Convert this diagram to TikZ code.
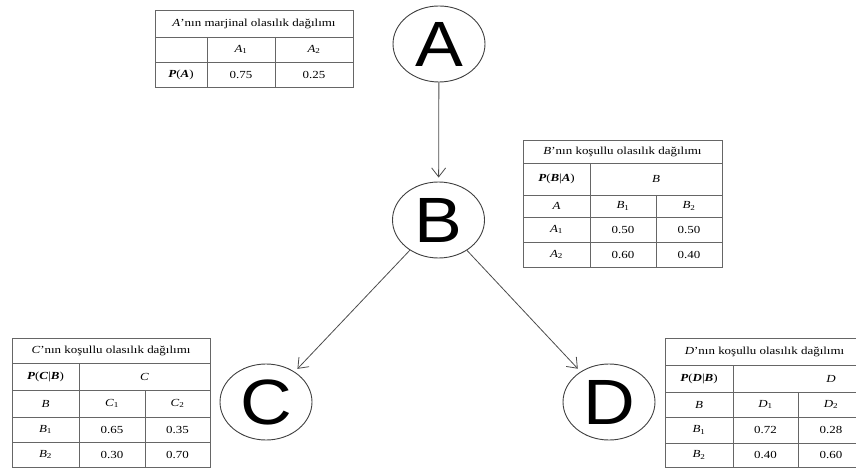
\documentclass[tikz,border=0pt]{standalone}
\usepackage{fontspec}
\usepackage{graphicx}
\setmainfont{Liberation Serif}[FakeStretch=1.2]
\newfontfamily\letterfont{Liberation Sans}[FakeStretch=1.12]
\usetikzlibrary{shapes.geometric,arrows.meta}

% italic variable with an upright subscript
\newcommand{\vsub}[2]{\textit{#1}\textsubscript{#2}}
\newcommand{\bvar}[1]{\textbf{\textit{#1}}}

\begin{document}
\begin{tikzpicture}[x=1pt,y=-1pt,
  var/.style={ellipse,draw=black!75,line width=0.9pt,minimum width=92pt,
    minimum height=76pt,inner sep=0pt,
    font=\letterfont\fontsize{64}{64}\selectfont},
  edge/.style={draw=black!70,line width=0.8pt,shorten >=4pt,
    -{Straight Barb[length=9pt,width=14pt,line width=0.8pt]}},
  grid/.style={draw=black!60,line width=0.8pt},
  cell/.style={inner sep=0pt,font=\fontsize{10.8}{12}\selectfont}]
\useasboundingbox (0,0) rectangle (856,470);
\begin{scope}
\clip (0,0) rectangle (856,470);

% ---- network nodes ----
\node[var] (A) at (439,44) {A};
\node[var] (B) at (438.5,220) {B};
\node[var] (C) at (266,402) {C};
\node[var] (D) at (609,402) {D};

\draw[edge] (A) -- (B);
\draw[edge] (B) -- (C);
\draw[edge] (B) -- (D);

% ---- marginal table of A ----
\draw[grid] (155,10) rectangle (353,87);
\draw[grid] (155,37) -- (353,37) (155,62) -- (353,62);
\draw[grid] (207,37) -- (207,87) (275,37) -- (275,87);
\node[cell] (ta0) at (254,23.5) {\textit{A}'nın marjinal olasılık dağılımı};
\node[cell] (ta1) at (241,49.5) {\vsub{A}{1}};
\node[cell] (ta2) at (314,49.5) {\vsub{A}{2}};
\node[cell] (ta3) at (181,74.5) {\bvar{P}(\bvar{A})};
\node[cell] (ta4) at (241,74.5) {0.75};
\node[cell] (ta5) at (314,74.5) {0.25};

% ---- conditional table of B ----
\draw[grid] (523,140) rectangle (722,267);
\draw[grid] (523,163) -- (722,163) (523,195) -- (722,195)
            (523,217) -- (722,217) (523,242) -- (722,242);
\draw[grid] (590,163) -- (590,267) (656,195) -- (656,267);
\node[cell] (tb0) at (622.5,151.5) {\textit{B}'nın koşullu olasılık dağılımı};
\node[cell] (tb1) at (556.5,179) {\bvar{P}(\bvar{B}|\bvar{A})};
\node[cell] (tb2) at (656,179) {\textit{B}};
\node[cell] (tb3) at (556.5,206) {\textit{A}};
\node[cell] (tb4) at (623,206) {\vsub{B}{1}};
\node[cell] (tb5) at (689,206) {\vsub{B}{2}};
\node[cell] (tb6) at (556.5,229.5) {\vsub{A}{1}};
\node[cell] (tb7) at (623,229.5) {0.50};
\node[cell] (tb8) at (689,229.5) {0.50};
\node[cell] (tb9) at (556.5,254.5) {\vsub{A}{2}};
\node[cell] (tb10) at (623,254.5) {0.60};
\node[cell] (tb11) at (689,254.5) {0.40};

% ---- conditional table of C ----
\draw[grid] (12,338) rectangle (210,467);
\draw[grid] (12,363) -- (210,363) (12,390) -- (210,390)
            (12,417) -- (210,417) (12,442) -- (210,442);
\draw[grid] (79,363) -- (79,467) (145,390) -- (145,467);
\node[cell] (tc0) at (111,350.5) {\textit{C}'nın koşullu olasılık dağılımı};
\node[cell] (tc1) at (45.5,376.5) {\bvar{P}(\bvar{C}|\bvar{B})};
\node[cell] (tc2) at (144.5,376.5) {\textit{C}};
\node[cell] (tc3) at (45.5,403.5) {\textit{B}};
\node[cell] (tc4) at (112,403.5) {\vsub{C}{1}};
\node[cell] (tc5) at (177.5,403.5) {\vsub{C}{2}};
\node[cell] (tc6) at (45.5,429.5) {\vsub{B}{1}};
\node[cell] (tc7) at (112,429.5) {0.65};
\node[cell] (tc8) at (177.5,429.5) {0.35};
\node[cell] (tc9) at (45.5,454.5) {\vsub{B}{2}};
\node[cell] (tc10) at (112,454.5) {0.30};
\node[cell] (tc11) at (177.5,454.5) {0.70};

% ---- conditional table of D (runs past the right edge) ----
\draw[grid] (665,338) rectangle (864,467);
\draw[grid] (665,365) -- (864,365) (665,392) -- (864,392)
            (665,417) -- (864,417) (665,443) -- (864,443);
\draw[grid] (733,365) -- (733,467) (798,392) -- (798,467);
\node[cell] (td0) at (764.5,351.5) {\textit{D}'nın koşullu olasılık dağılımı};
\node[cell] (td1) at (699,378.5) {\bvar{P}(\bvar{D}|\bvar{B})};
\node[cell] (td2) at (831,378.5) {\textit{D}};
\node[cell] (td3) at (699,404.5) {\textit{B}};
\node[cell] (td4) at (765.5,404.5) {\vsub{D}{1}};
\node[cell] (td5) at (831,404.5) {\vsub{D}{2}};
\node[cell] (td6) at (699,430) {\vsub{B}{1}};
\node[cell] (td7) at (765.5,430) {0.72};
\node[cell] (td8) at (831,430) {0.28};
\node[cell] (td9) at (699,455) {\vsub{B}{2}};
\node[cell] (td10) at (765.5,455) {0.40};
\node[cell] (td11) at (831,455) {0.60};
\end{scope}
\end{tikzpicture}
\end{document}
